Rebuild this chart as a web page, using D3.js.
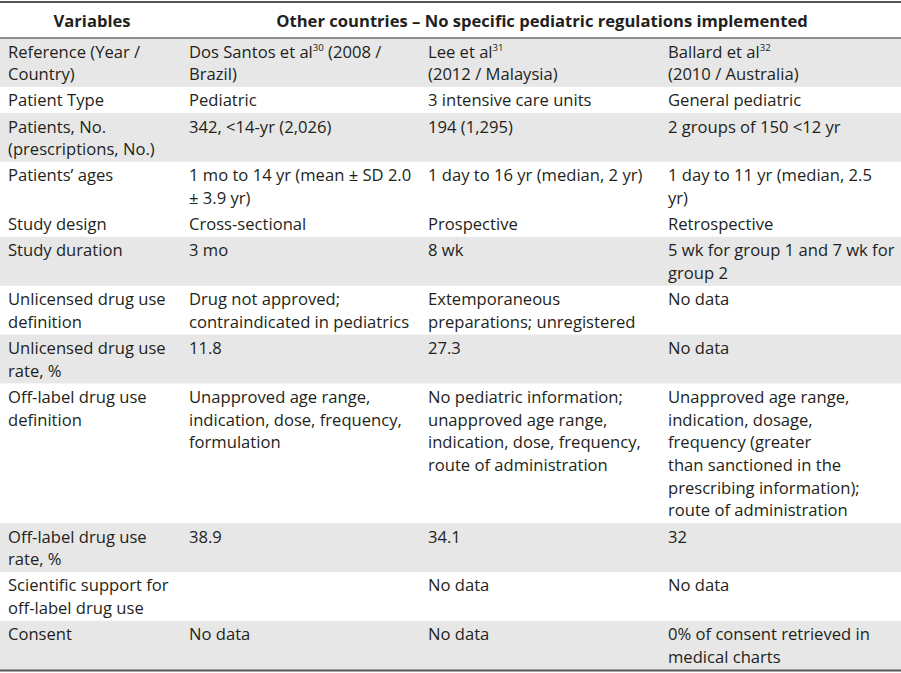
<!DOCTYPE html>
<html><head><meta charset="utf-8">
<script src="https://cdn.jsdelivr.net/npm/d3@7"></script>
<style>
html,body{margin:0;padding:0;background:#fff;}
svg{display:block;}
</style></head>
<body>
<script>
// ---- DATA ----
const headerLabels = ["Variables", "Other countries \u2013 No specific pediatric regulations implemented"];
const variables = [
  "Reference (Year /\nCountry)",
  "Patient Type",
  "Patients, No.\n(prescriptions, No.)",
  "Patients\u2019 ages",
  "Study design",
  "Study duration",
  "Unlicensed drug use\ndefinition",
  "Unlicensed drug use\nrate, %",
  "Off-label drug use\ndefinition",
  "Off-label drug use\nrate, %",
  "Scientific support for\noff-label drug use",
  "Consent"
];
const dosSantos = [
  "Dos Santos et al{30} (2008 /\nBrazil)",
  "Pediatric",
  "342, <14-yr (2,026)",
  "1 mo to 14 yr (mean \u00b1 SD 2.0\n\u00b1 3.9 yr)",
  "Cross-sectional",
  "3 mo",
  "Drug not approved;\ncontraindicated in pediatrics",
  "11.8",
  "Unapproved age range,\nindication, dose, frequency,\nformulation",
  "38.9",
  "",
  "No data"
];
const lee = [
  "Lee et al{31}\n(2012 / Malaysia)",
  "3 intensive care units",
  "194 (1,295)",
  "1 day to 16 yr (median, 2 yr)",
  "Prospective",
  "8 wk",
  "Extemporaneous\npreparations; unregistered",
  "27.3",
  "No pediatric information;\nunapproved age range,\nindication, dose, frequency,\nroute of administration",
  "34.1",
  "No data",
  "No data"
];
const ballard = [
  "Ballard et al{32}\n(2010 / Australia)",
  "General pediatric",
  "2 groups of 150 <12 yr",
  "1 day to 11 yr (median, 2.5\nyr)",
  "Retrospective",
  "5 wk for group 1 and 7 wk for\ngroup 2",
  "No data",
  "No data",
  "Unapproved age range,\nindication, dosage,\nfrequency (greater\nthan sanctioned in the\nprescribing information);\nroute of administration",
  "32",
  "No data",
  "0% of consent retrieved in\nmedical charts"
];
// minimum lines per row (rows whose cells leave an empty second line)
const rowMinLines = [2,1,2,2,1,2,2,2,6,2,2,2];

// ---- STYLE / LAYOUT ----
const W = 901, H = 673;
const FONT = "'Open Sans', sans-serif";
const FS = 16.6;
const LH = 22.7;
const PAD = 3.45;
const BASE = 19.5;
const SUP_DY = 6.5;
const shaded = new Set([0,2,5,7,9,11]);
const colX = [8, 189, 428, 668];
const headerBottom = 38;
const textColor = "#231f20", ruleColor = "#555", fillColor = "#e7e7e7";

const columns = [variables, dosSantos, lee, ballard];
const rows = variables.map((v, i) => ({
  i,
  cells: columns.map(c => c[i].split("\n")),
}));
rows.forEach(r => {
  r.lines = Math.max(rowMinLines[r.i], ...r.cells.map(c => c.length));
});
let acc = headerBottom;
rows.forEach(r => { r.y0 = acc; r.h = r.lines * LH + PAD; acc += r.h; });

const svg = d3.select("body").append("svg")
  .attr("width", W).attr("height", H)
  .attr("font-family", FONT).attr("font-size", FS).attr("fill", textColor);

// backgrounds
svg.append("g").selectAll("rect").data(rows.filter(r => shaded.has(r.i))).join("rect")
  .attr("x", 0).attr("width", W).attr("y", r => r.y0).attr("height", r => r.h)
  .attr("fill", fillColor);

// rules
svg.append("line").attr("x1", 0).attr("x2", W).attr("y1", 2).attr("y2", 2)
  .attr("stroke", ruleColor).attr("stroke-width", 2);
svg.append("line").attr("x1", 0).attr("x2", W).attr("y1", headerBottom).attr("y2", headerBottom)
  .attr("stroke", "#6d6d6d").attr("stroke-width", 1.5);
svg.append("line").attr("x1", 0).attr("x2", W).attr("y1", acc + 1).attr("y2", acc + 1)
  .attr("stroke", ruleColor).attr("stroke-width", 2);

// header
const hdr = svg.append("g").attr("font-weight", "bold");
hdr.append("text").attr("x", 92).attr("y", 27).attr("text-anchor", "middle").text(headerLabels[0]);
hdr.append("text").attr("x", 542).attr("y", 27).attr("text-anchor", "middle").text(headerLabels[1]);

// cells: plain text plus superscripts; each line uses absolute y per tspan
function addLine(g, x, y, line) {
  const t = g.append("text").attr("x", x).attr("y", y);
  const parts = line.split(/(\{\d+\})/).filter(s => s.length);
  parts.forEach(p => {
    const m = p.match(/^\{(\d+)\}$/);
    if (m) {
      t.append("tspan").attr("y", y - SUP_DY).attr("font-size", FS * 0.58).text(m[1]);
    } else {
      t.append("tspan").attr("y", y).text(p);
    }
  });
}
const rowG = svg.append("g").selectAll("g").data(rows).join("g")
  .attr("transform", r => `translate(0,${r.y0})`);
rowG.each(function(r) {
  const g = d3.select(this);
  r.cells.forEach((lines, ci) => {
    lines.forEach((ln, li) => {
      if (!ln) return;
      addLine(g, colX[ci], BASE + li * LH, ln);
    });
  });
});
</script>
</body></html>
